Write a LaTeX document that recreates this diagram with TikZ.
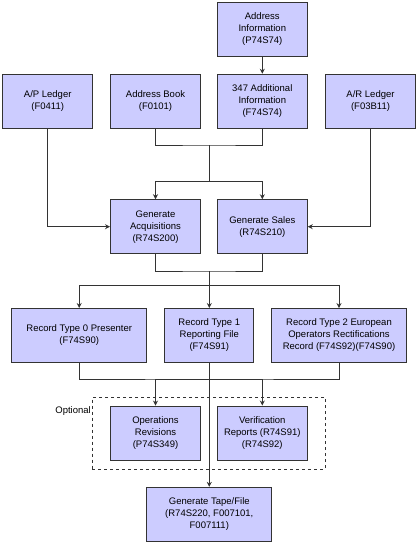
\documentclass[tikz,border=0pt]{standalone}
\usepackage{fontspec}
\setmainfont{Liberation Sans}
\usetikzlibrary{arrows.meta}
\definecolor{boxfill}{HTML}{CCCCFF}
\definecolor{lineclr}{HTML}{333333}
\begin{document}
\begin{tikzpicture}[x=1pt,y=-1pt,
  box/.style={draw=lineclr,fill=boxfill,line width=0.9pt,minimum height=54pt,
    align=center,inner sep=1pt,font=\fontsize{9.5}{12}\selectfont},
  conn/.style={draw=lineclr,line width=0.9pt},
  arr/.style={conn,-{Stealth[length=5pt,width=5pt]}}]
\useasboundingbox (0,0) rectangle (417,544);
% boxes
\node[box,minimum width=90pt] (addrinfo) at (262.3,29.2) {Address\\Information\\(P74S74)};
\node[box,minimum width=90pt] (apl) at (47.7,101.2) {A/P Ledger\\(F0411)};
\node[box,minimum width=90pt] (ab) at (155.5,101.2) {Address Book\\(F0101)};
\node[box,minimum width=90pt] (add347) at (262.3,101.2) {347 Additional\\Information\\(F74S74)};
\node[box,minimum width=90pt] (arl) at (370.5,101.2) {A/R Ledger\\(F03B11)};
\node[box,minimum width=90pt] (genacq) at (155.5,226.7) {Generate\\Acquisitions\\(R74S200)};
\node[box,minimum width=90pt] (gensales) at (262.3,226.7) {Generate Sales\\(R74S210)};
\node[box,minimum width=135pt] (rt0) at (79.2,335.5) {Record Type 0 Presenter\\(F74S90)};
\node[box,minimum width=89pt] (rt1) at (209.3,335.5) {Record Type 1\\Reporting File\\(F74S91)};
\node[box,minimum width=135pt] (rt2) at (339,335.5) {Record Type 2 European\\Operators Rectifications\\Record (F74S92)(F74S90)};
\node[draw=lineclr,dashed,line width=0.9pt,minimum width=233pt,minimum height=71.7pt,inner sep=0pt] (optbox) at (208.8,433.2) {};
\node[anchor=east,inner sep=0pt,font=\fontsize{9.5}{12}\selectfont] (optlbl) at (91,410.7) {Optional};
\node[box,minimum width=90pt] (ops) at (155.5,433) {Operations\\Revisions\\(P74S349)};
\node[box,minimum width=90pt] (ver) at (262.3,433) {Verification\\Reports (R74S91)\\(R74S92)};
\node[box,minimum width=125pt] (tape) at (209.3,514.3) {Generate Tape/File\\(R74S220, F007101,\\F007111)};
% junction coordinates
\coordinate (j1) at (209.3,145);
\coordinate (j1b) at (209.3,181);
\coordinate (j2) at (209.3,271);
\coordinate (j3) at (209.3,285.7);
\coordinate (j4) at (209.3,379);
% connectors
\draw[arr] (addrinfo.south) -- (add347.north);
\draw[conn] (ab.south) |- (j1) -| (add347.south);
\draw[conn] (j1) -- (j1b);
\draw[arr] (j1b) -| (genacq.north);
\draw[arr] (j1b) -| (gensales.north);
\draw[arr] (apl.south) |- (genacq.west);
\draw[arr] (arl.south) |- (gensales.east);
\draw[conn] (genacq.south) |- (j2) -| (gensales.south);
\draw[conn] (j2) -- (j3);
\draw[arr] (j3) -| (rt0.north);
\draw[arr] (j3) -- (rt1.north);
\draw[arr] (j3) -| (rt2.north);
\draw[conn] (rt0.south) |- (j4) -| (rt2.south);
\draw[arr] (rt1.south) -- (tape.north);
\draw[arr] (j4) -| (ops.north);
\draw[arr] (j4) -| (ver.north);
\end{tikzpicture}
\end{document}
